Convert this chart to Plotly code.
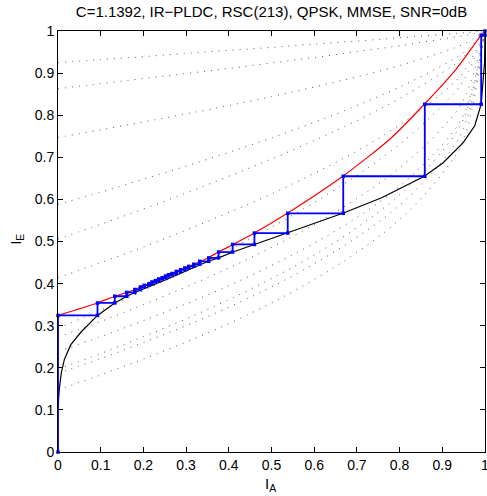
import plotly.graph_objects as go

# ---- data ----
title_text = "C=1.1392, IR\u2212PLDC, RSC(213), QPSK, MMSE, SNR=0dB"
tick_vals = [0, 0.1, 0.2, 0.3, 0.4, 0.5, 0.6, 0.7, 0.8, 0.9, 1]
tick_text = ["0", "0.1", "0.2", "0.3", "0.4", "0.5", "0.6", "0.7", "0.8", "0.9", "1"]

# component EXIT curves (dotted)
dot_x = [0, 0.1, 0.2, 0.3, 0.4, 0.5, 0.6, 0.7, 0.8, 0.9, 0.95, 1.0]
dot_a = [0.925, 0.932, 0.939, 0.947, 0.954, 0.961, 0.969, 0.976, 0.984, 0.992, 0.996, 1.0]
dot_b = [0.863, 0.875, 0.887, 0.899, 0.911, 0.924, 0.937, 0.951, 0.965, 0.981, 0.989, 1.0]
dot_c = [0.747, 0.765, 0.784, 0.803, 0.823, 0.844, 0.867, 0.891, 0.918, 0.950, 0.969, 1.0]
dot_d = [0.588, 0.617, 0.648, 0.679, 0.712, 0.746, 0.783, 0.823, 0.867, 0.918, 0.949, 1.0]
dot_e = [0.506, 0.541, 0.577, 0.615, 0.655, 0.696, 0.740, 0.787, 0.840, 0.901, 0.939, 1.0]
dot_f = [0.414, 0.450, 0.487, 0.527, 0.569, 0.613, 0.662, 0.715, 0.777, 0.853, 0.903, 1.0]
dot_g = [0.294, 0.337, 0.383, 0.430, 0.480, 0.534, 0.593, 0.657, 0.731, 0.823, 0.883, 1.0]
dot_h = [0.273, 0.310, 0.350, 0.392, 0.437, 0.486, 0.540, 0.602, 0.675, 0.770, 0.837, 1.0]
dot_i = [0.239, 0.274, 0.312, 0.352, 0.395, 0.443, 0.496, 0.557, 0.631, 0.730, 0.802, 1.0]
dot_j = [0.197, 0.234, 0.274, 0.316, 0.362, 0.412, 0.468, 0.533, 0.611, 0.715, 0.792, 1.0]
dot_k = [0.187, 0.222, 0.260, 0.300, 0.344, 0.392, 0.447, 0.510, 0.586, 0.691, 0.769, 1.0]
dot_l = [0.148, 0.183, 0.221, 0.261, 0.305, 0.354, 0.410, 0.474, 0.552, 0.661, 0.743, 1.0]
dotted_curves = [dot_a, dot_b, dot_c, dot_d, dot_e, dot_f, dot_g, dot_h, dot_i, dot_j, dot_k, dot_l]

# combined EXIT curve (red)
red_x = [0, 0.0925, 0.133, 0.161, 0.18, 0.25, 0.3, 0.351, 0.376, 0.41, 0.46, 0.537,
         0.667, 0.777, 0.858, 0.933, 0.991, 1.0]
red_y = [0.3245, 0.354, 0.37, 0.379, 0.386, 0.416, 0.438, 0.461, 0.475, 0.493, 0.52, 0.567,
         0.655, 0.743, 0.826, 0.91, 0.99, 1.0]

# inverse detector EXIT curve (black)
blk_x = [0, 0.003, 0.008, 0.015, 0.03, 0.054, 0.0925, 0.133, 0.161, 0.18, 0.25, 0.3,
         0.352, 0.376, 0.41, 0.46, 0.537, 0.667, 0.758, 0.858, 0.902, 0.949, 0.976,
         0.987, 0.991, 0.999, 1.0]
blk_y = [0.105, 0.15, 0.19, 0.22, 0.255, 0.285, 0.3245, 0.354, 0.37, 0.379, 0.408, 0.43,
         0.453, 0.461, 0.475, 0.493, 0.52, 0.567, 0.604, 0.655, 0.687, 0.735, 0.775,
         0.81, 0.826, 0.925, 1.0]

# decoding trajectory (blue): vertical positions and levels
traj_x = [0, 0.0925, 0.133, 0.161, 0.18, 0.193, 0.202, 0.213, 0.220, 0.228, 0.236, 0.244,
          0.252, 0.259, 0.267, 0.277, 0.287, 0.297, 0.306, 0.318, 0.332, 0.353, 0.376,
          0.409, 0.460, 0.538, 0.668, 0.859, 0.991, 1.0]
traj_y = [0.3245, 0.354, 0.37, 0.379, 0.386, 0.392, 0.396, 0.400, 0.404, 0.407, 0.411, 0.414,
          0.418, 0.421, 0.424, 0.429, 0.433, 0.437, 0.441, 0.446, 0.453, 0.461, 0.475,
          0.493, 0.520, 0.567, 0.655, 0.826, 0.990, 1.0]

# ---- figure ----
font_fam = "Liberation Sans Narrow, Arial Narrow, Liberation Sans, Arial, sans-serif"
fig = go.Figure()

for yv in dotted_curves:
    fig.add_trace(go.Scatter(x=dot_x, y=yv, mode="lines",
                             line=dict(color="rgb(90,90,90)", width=1, dash="1px,6px", shape="spline"),
                             hoverinfo="skip", showlegend=False))

fig.add_trace(go.Scatter(x=blk_x, y=blk_y, mode="lines",
                         line=dict(color="black", width=1.2), showlegend=False))
fig.add_trace(go.Scatter(x=red_x, y=red_y, mode="lines",
                         line=dict(color="red", width=1.2, shape="spline", smoothing=0.6),
                         showlegend=False))

# build staircase path from the trajectory data
px = [traj_x[0]]
py = [0.0]
for k in range(len(traj_x)):
    px.append(traj_x[k]); py.append(traj_y[k])
    if k + 1 < len(traj_x):
        px.append(traj_x[k + 1]); py.append(traj_y[k])
fig.add_trace(go.Scatter(x=px, y=py, mode="lines+markers",
                         line=dict(color="rgb(0,0,255)", width=1.8),
                         marker=dict(color="rgb(0,0,255)", size=3.5, symbol="square"),
                         showlegend=False, cliponaxis=False))

axis_common = dict(range=[0, 1], tickmode="array", tickvals=tick_vals, ticktext=tick_text,
                   ticks="inside", ticklen=5, tickcolor="black", tickwidth=1,
                   showline=True, linecolor="black", linewidth=1, mirror="ticks",
                   showgrid=False, zeroline=False, ticklabeloverflow="allow",
                   tickfont=dict(family=font_fam, size=14, color="black"))

fig.update_layout(
    width=487, height=496,
    margin=dict(l=58, r=2, t=31, b=44, autoexpand=False),
    paper_bgcolor="white", plot_bgcolor="white",
    xaxis=dict(**axis_common, automargin=False),
    yaxis=dict(**axis_common, automargin=False),
    title=dict(text=title_text, x=0.5, xref="paper", y=1 - 12 / 496, yref="container",
               xanchor="center", yanchor="middle",
               font=dict(family=font_fam, size=15, color="black")),
    annotations=[
        dict(text="I<sub>E</sub>", xref="paper", yref="paper", x=-0.096, y=0.504,
             textangle=-90, showarrow=False, xanchor="center", yanchor="middle",
             font=dict(family=font_fam, size=15, color="black")),
        dict(text="I<sub>A</sub>", xref="paper", yref="paper", x=0.498, y=-0.078,
             showarrow=False, xanchor="center", yanchor="middle",
             font=dict(family=font_fam, size=15, color="black")),
    ],
)

fig.write_html("out.html", config={"displayModeBar": False},
               post_script="document.body.style.margin='0';document.body.style.overflow='hidden';")
